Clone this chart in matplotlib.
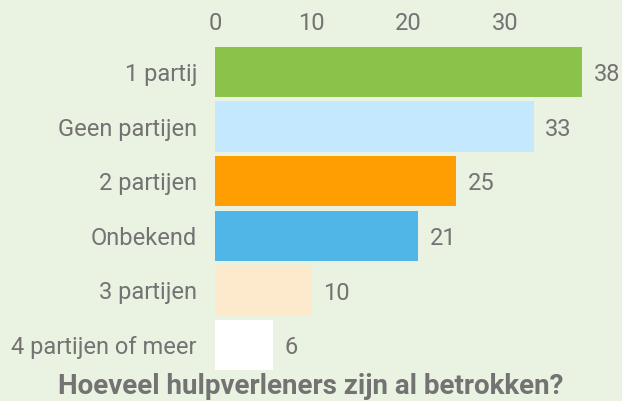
import matplotlib
matplotlib.use("Agg")
import matplotlib.pyplot as plt

categories = ["1 partij", "Geen partijen", "2 partijen", "Onbekend", "3 partijen", "4 partijen of meer"]
values = [38, 33, 25, 21, 10, 6]
colors = ["#8bc34a", "#c4e8fd", "#ff9e00", "#50b6e8", "#fdeacc", "#ffffff"]
ticks = [0, 10, 20, 30]

bg = "#eaf2e1"
txt = "#737373"
plt.rcParams["font.family"] = ["Roboto", "DejaVu Sans"]

fig = plt.figure(figsize=(6.22, 4.01), dpi=100, facecolor=bg)
ax = fig.add_axes([215 / 622, 1 - 372.5 / 401, 367 / 622, 328 / 401])
ax.set_facecolor(bg)

y = list(range(len(categories)))
ax.barh(y, values, height=0.92, color=colors)
for yi, v in zip(y, values):
    ax.text(v + 1.2, yi + 0.05, str(v), va="center", ha="left", fontsize=17, color=txt, clip_on=False)

ax.set_xlim(0, 38)
ax.set_ylim(len(categories) - 0.5, -0.5)
ax.set_yticks(y)
ax.set_yticklabels(categories, fontsize=17, color=txt)
ax.set_xticks(ticks)
ax.set_xticklabels([str(t) for t in ticks], fontsize=17, color=txt)
ax.xaxis.tick_top()
ax.tick_params(axis="both", length=0)
ax.tick_params(axis="y", pad=13)
ax.tick_params(axis="x", pad=7)
for s in ax.spines.values():
    s.set_visible(False)

fig.text(0.5, 1 - 387 / 401, "Hoeveel hulpverleners zijn al betrokken?", ha="center", va="center",
         fontsize=20, fontweight="bold", color=txt)

fig.savefig("out.png", dpi=100, facecolor=bg)
